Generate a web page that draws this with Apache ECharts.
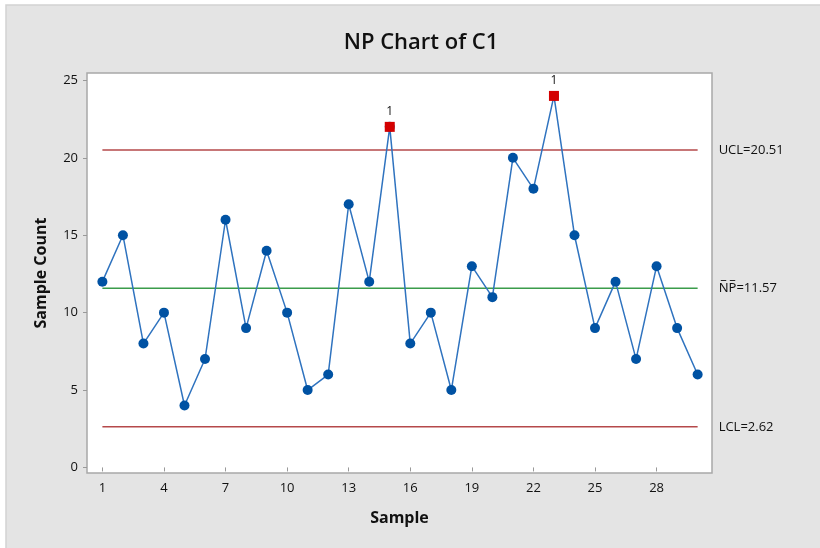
<!DOCTYPE html>
<html>
<head>
<meta charset="utf-8">
<script src="https://cdn.jsdelivr.net/npm/echarts@6/dist/echarts.min.js"></script>
<style>html,body{margin:0;padding:0;background:#fff}#c{width:820px;height:548px}</style>
</head>
<body>
<div id="c"></div>
<script>
const samples = [1,2,3,4,5,6,7,8,9,10,11,12,13,14,15,16,17,18,19,20,21,22,23,24,25,26,27,28,29,30];
const counts = [12,15,8,10,4,7,16,9,14,10,5,6,17,12,22,8,10,5,13,11,20,18,24,15,9,12,7,13,9,6];
const outOfControl = [15, 23];
const UCL = 20.51, NPBAR = 11.57, LCL = 2.62;
const yTicks = [0,5,10,15,20,25];
const xTicks = [1,4,7,10,13,16,19,22,25,28];

const FONT = '"Open Sans", "Noto Sans", sans-serif';
const lineData = samples.map((s,i)=>[s,counts[i]]);
const oocData = outOfControl.map(s=>[s,counts[s-1]]);

function ctrl(name, v, color, label){
  return {
    type:'line', name, data:[[samples[0],v],[samples[samples.length-1],v]],
    symbol:'none', silent:true, z:1,
    lineStyle:{color, width:1.5},
    endLabel:{show:true, formatter:label, color:'#111', fontFamily:FONT, fontSize:13, distance:21}
  };
}

const chart = echarts.init(document.getElementById('c'), null, {renderer:'canvas'});
chart.setOption({
  animation:false,
  backgroundColor:'#ffffff',
  graphic:[
    {type:'rect', z:-10, shape:{x:6,y:5,width:820,height:560}, style:{fill:'#e4e4e4', stroke:'#d2d2d2', lineWidth:1.5}}
  ],
  title:{text:'NP Chart of C1', left:416, top:27, textAlign:'center',
    textStyle:{fontFamily:FONT, fontSize:22, fontWeight:600, color:'#111'}},
  grid:{left:87, right:108, top:73, bottom:75, show:true, backgroundColor:'#ffffff', borderColor:'#a8a8a8', borderWidth:1.5},
  xAxis:{
    type:'value', min:0.25, max:30.7,
    name:'Sample', nameLocation:'middle', nameGap:37,
    nameTextStyle:{fontFamily:FONT, fontSize:16, fontWeight:'bold', color:'#111'},
    axisLine:{show:false},
    splitLine:{show:false},
    axisTick:{show:true, length:4, lineStyle:{color:'#999'}, customValues:xTicks},
    axisLabel:{customValues:xTicks, fontFamily:FONT, fontSize:13, color:'#111', margin:9}
  },
  yAxis:{
    type:'value', min:-0.36, max:25.48,
    name:'Sample Count', nameLocation:'middle', nameGap:38,
    nameTextStyle:{fontFamily:FONT, fontSize:16, fontWeight:'bold', color:'#111'},
    axisLine:{show:false},
    splitLine:{show:false},
    axisTick:{show:true, length:4, lineStyle:{color:'#999'}, customValues:yTicks},
    axisLabel:{customValues:yTicks, fontFamily:FONT, fontSize:13, color:'#111', margin:9}
  },
  series:[
    ctrl('UCL', UCL, '#b5494a', 'UCL=20.51'),
    ctrl('NP', NPBAR, '#3b9c4b', 'N\u0305P\u0305=11.57'),
    ctrl('LCL', LCL, '#b5494a', 'LCL=2.62'),
    {
      type:'line', data:lineData, z:3,
      symbol:'circle', symbolSize:10,
      lineStyle:{color:'#2f73bf', width:1.5},
      itemStyle:{color:'#0052a3', opacity:1}
    },
    {
      type:'scatter', data:oocData, z:4,
      symbol:'rect', symbolSize:10,
      itemStyle:{color:'#d40000', opacity:1},
      label:{show:true, position:'top', formatter:'1', distance:4, fontFamily:FONT, fontSize:12, color:'#111', opacity:1}
    }
  ]
});
</script>
</body>
</html>
